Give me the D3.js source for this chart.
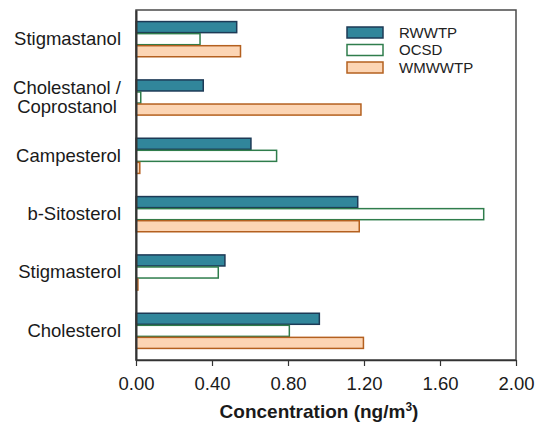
<!DOCTYPE html>
<html>
<head>
<meta charset="utf-8">
<script src="https://cdn.jsdelivr.net/npm/d3@7"></script>
<style>
  html, body { margin: 0; padding: 0; background: #fff; }
  svg { display: block; font-family: "Liberation Sans", Arial, sans-serif; }
</style>
</head>
<body>
<svg id="chart" width="536" height="423"></svg>
<script>
// Sterol concentrations (ng/m3) at three treatment plants
const categories = ["Stigmastanol", "Cholestanol / Coprostanol", "Campesterol", "b-Sitosterol", "Stigmasterol", "Cholesterol"];
const seriesNames = ["RWWTP", "OCSD", "WMWWTP"];
const rwwtp  = [0.53, 0.354, 0.605, 1.167, 0.468, 0.965];
const ocsd   = [0.337, 0.025, 0.74, 1.83, 0.433, 0.807];
const wmwwtp = [0.55, 1.184, 0.02, 1.175, 0.01, 1.197];
const xTicks = [0, 0.4, 0.8, 1.2, 1.6, 2.0];

const seriesValues = [rwwtp, ocsd, wmwwtp];
const fills   = ["#31869b", "#ffffff", "#fcd5b4"];
const strokes = ["#1d3a56", "#2f7d4c", "#b4601f"];

const svg = d3.select("#chart");
const m = { left: 136, right: 20, top: 10, bottom: 63 };
const W = 536, H = 423;
const iw = W - m.left - m.right, ih = H - m.top - m.bottom;
const labelFont = 18.5;

const g = svg.append("g").attr("transform", `translate(${m.left},${m.top})`);

const x = d3.scaleLinear().domain([0, 2]).range([0, iw]);
const y = d3.scaleBand().domain(categories).range([0, ih]).paddingInner(0.38).paddingOuter(0.19);
const ySub = d3.scaleBand().domain(seriesNames).range([0, y.bandwidth()]);

// bars
categories.forEach((c, i) => {
  seriesNames.forEach((s, k) => {
    g.append("rect")
      .attr("x", x(0))
      .attr("y", y(c) + ySub(s) + 0.5)
      .attr("width", x(seriesValues[k][i]))
      .attr("height", ySub.bandwidth() - 1)
      .attr("fill", fills[k])
      .attr("stroke", strokes[k])
      .attr("stroke-width", 1.5);
  });
});

// frame
g.append("rect")
  .attr("x", 0).attr("y", 0).attr("width", iw).attr("height", ih)
  .attr("fill", "none").attr("stroke", "#4a4a4a").attr("stroke-width", 1.5);

// x axis
const xAxis = g.append("g")
  .attr("transform", `translate(0,${ih})`)
  .call(d3.axisBottom(x).tickValues(xTicks).tickFormat(d3.format(".2f")).tickSize(6).tickSizeOuter(0));
xAxis.select(".domain").attr("stroke", "#333").attr("stroke-width", 1.5);
xAxis.selectAll(".tick line").attr("stroke", "#333").attr("stroke-width", 1.2);
xAxis.selectAll(".tick text")
  .attr("font-family", "Liberation Sans, Arial, sans-serif")
  .attr("font-size", labelFont).attr("fill", "#1a1a1a")
  .attr("y", 30).attr("dy", null);

// y axis labels
const yAxis = g.append("g")
  .call(d3.axisLeft(y).tickSize(0).tickPadding(15));
yAxis.select(".domain").attr("stroke", "#333").attr("stroke-width", 2);
yAxis.selectAll(".tick text")
  .attr("font-family", "Liberation Sans, Arial, sans-serif")
  .attr("font-size", labelFont).attr("fill", "#1a1a1a")
  .each(function (d) {
    const parts = d.split(" / ");
    if (parts.length > 1) {
      const t = d3.select(this);
      t.text(null).attr("dy", null).attr("text-anchor", "middle");
      const first = t.append("tspan").attr("dy", "-0.2em").text(parts[0] + " /");
      const second = t.append("tspan").attr("dy", "1.05em").text(parts[1]);
      const w = first.node().getComputedTextLength();
      const cx = -15 - w / 2;
      first.attr("x", cx);
      second.attr("x", cx);
    }
  });

// x axis title
const title = svg.append("text")
  .attr("x", m.left + iw / 2 - 7).attr("y", 418)
  .attr("text-anchor", "middle")
  .attr("font-size", 19).attr("font-weight", "bold").attr("fill", "#1a1a1a");
title.append("tspan").text("Concentration (ng/m");
title.append("tspan").attr("font-size", 12).attr("dy", -7).text("3");
title.append("tspan").attr("dy", 7).text(")");

// legend
const legend = svg.append("g").attr("transform", "translate(347,27)");
seriesNames.forEach((s, k) => {
  const row = legend.append("g").attr("transform", `translate(0,${k * 17.5})`);
  row.append("rect").attr("width", 36).attr("height", 11)
    .attr("fill", fills[k]).attr("stroke", strokes[k]).attr("stroke-width", 1.5);
  row.append("text").attr("x", 52).attr("y", 5.5).attr("dy", "0.35em")
    .attr("font-size", 15).attr("fill", "#222").text(s);
});
</script>
</body>
</html>
